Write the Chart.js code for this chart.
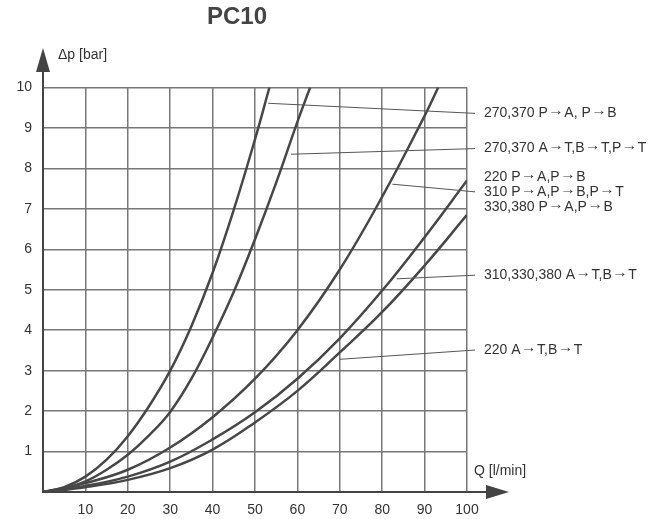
<!DOCTYPE html>
<html>
<head>
<meta charset="utf-8">
<title>PC10</title>
<script src="https://cdn.jsdelivr.net/npm/chart.js@4/dist/chart.umd.min.js"></script>
<style>
  html, body { margin: 0; padding: 0; background: #fff; }
</style>
</head>
<body>
<canvas id="chart" width="658" height="519"></canvas>
<script>
// flow Q [l/min] and pressure drop dp [bar]
const q1 = [0, 5, 10, 15, 20, 25, 30, 35, 40, 45, 50, 53.4];
const dp1 = [0, 0.12, 0.38, 0.8, 1.38, 2.12, 3.0, 4.1, 5.42, 6.98, 8.72, 10];

const q2 = [0, 5, 10, 15, 20, 25, 30, 35, 40, 45, 50, 55, 60, 63];
const dp2 = [0, 0.08, 0.26, 0.55, 0.92, 1.4, 1.98, 2.8, 3.82, 4.95, 6.25, 7.65, 9.15, 10];

const q3 = [0, 10, 20, 30, 40, 50, 60, 70, 80, 90, 93.2];
const dp3 = [0, 0.22, 0.55, 1.1, 1.85, 2.8, 4.0, 5.5, 7.3, 9.3, 10];

const q45 = [0, 10, 20, 30, 40, 50, 60, 70, 80, 90, 100];
const dp4 = [0, 0.15, 0.38, 0.75, 1.3, 1.97, 2.8, 3.8, 4.98, 6.3, 7.7];
const dp5 = [0, 0.12, 0.3, 0.59, 1.05, 1.72, 2.5, 3.45, 4.45, 5.6, 6.85];

const labelTexts = [
    ['270,370 P\u2192A, P\u2192B'],
    ['270,370 A\u2192T,B\u2192T,P\u2192T'],
    ['220 P\u2192A,P\u2192B', '310 P\u2192A,P\u2192B,P\u2192T', '330,380 P\u2192A,P\u2192B'],
    ['310,330,380 A\u2192T,B\u2192T'],
    ['220 A\u2192T,B\u2192T']
];
// leader line start (next to the curve, data units) and label level (dp units)
const leaderQ = [53.1, 58.5, 82.4, 83.4, 70.0];
const leaderDp = [9.61, 8.35, 7.61, 5.27, 3.28];
const labelDp = [9.36, 8.49, 7.42, 5.36, 3.51];

const toPoints = (xs, ys) => xs.map((v, i) => ({ x: v, y: ys[i] }));

const curveStyle = {
    borderColor: '#474747',
    borderWidth: 2.5,
    pointRadius: 0,
    fill: false,
    tension: 0.4
};

const fontFamily = '"Liberation Sans", Arial, sans-serif';
const textFont = '14px ' + fontFamily;

// text with long thin arrows, the arrow glyph is stretched to match the sheet
function drawLabel(ctx, text, x, y) {
    ctx.font = textFont;
    const parts = text.split('\u2192');
    const aw = ctx.measureText('\u2192').width;
    let cx = x;
    parts.forEach((p, i) => {
        ctx.fillText(p, cx, y);
        cx += ctx.measureText(p).width;
        if (i < parts.length - 1) {
            ctx.save();
            ctx.translate(cx + 0.5, y - 2.5);
            ctx.scale(15.5 / aw, 1.1);
            ctx.fillText('\u2192', 0, 0);
            ctx.restore();
            cx += 16.5;
        }
    });
}

const overlay = {
    id: 'overlay',
    afterDraw(chart) {
        const { ctx, chartArea: a, scales: { x, y } } = chart;
        ctx.save();

        // axis extensions and arrow heads
        ctx.strokeStyle = '#444';
        ctx.fillStyle = '#444';
        ctx.lineWidth = 2;
        ctx.beginPath();
        ctx.moveTo(a.left, a.top);
        ctx.lineTo(a.left, 70);
        ctx.moveTo(a.right, a.bottom);
        ctx.lineTo(488, a.bottom);
        ctx.stroke();

        ctx.beginPath();
        ctx.moveTo(a.left, 48);
        ctx.lineTo(a.left - 7, 72);
        ctx.lineTo(a.left + 7, 72);
        ctx.closePath();
        ctx.fill();

        ctx.beginPath();
        ctx.moveTo(509, a.bottom);
        ctx.lineTo(486, a.bottom - 7);
        ctx.lineTo(486, a.bottom + 7);
        ctx.closePath();
        ctx.fill();

        // title
        ctx.fillStyle = '#444';
        ctx.font = 'bold 24px ' + fontFamily;
        ctx.textAlign = 'center';
        ctx.textBaseline = 'middle';
        ctx.fillText('PC10', 237, 17);

        // axis titles
        ctx.fillStyle = '#333';
        ctx.font = textFont;
        ctx.textAlign = 'left';
        ctx.fillText('\u0394p [bar]', 58, 55);
        ctx.fillText('Q [l/min]', 474, 471);

        // leader lines and curve labels
        ctx.strokeStyle = '#555';
        ctx.lineWidth = 1;
        labelTexts.forEach((lines, i) => {
            const ly = y.getPixelForValue(labelDp[i]);
            ctx.beginPath();
            ctx.moveTo(x.getPixelForValue(leaderQ[i]), y.getPixelForValue(leaderDp[i]));
            ctx.lineTo(a.right + 8, ly);
            ctx.stroke();
            const start = ly - (lines.length - 1) * 15 / 2;
            lines.forEach((t, j) => drawLabel(ctx, t, a.right + 17, start + j * 15));
        });

        ctx.restore();
    }
};

new Chart(document.getElementById('chart'), {
    type: 'line',
    data: {
        datasets: [
            { data: toPoints(q1, dp1), ...curveStyle },
            { data: toPoints(q2, dp2), ...curveStyle },
            { data: toPoints(q3, dp3), ...curveStyle },
            { data: toPoints(q45, dp4), ...curveStyle },
            { data: toPoints(q45, dp5), ...curveStyle }
        ]
    },
    options: {
        responsive: false,
        animation: false,
        layout: { padding: { left: 0, top: 87.5, right: 191, bottom: 0 } },
        plugins: { legend: { display: false }, tooltip: { enabled: false } },
        scales: {
            x: {
                type: 'linear',
                min: 0,
                max: 100,
                ticks: {
                    stepSize: 10,
                    padding: 10,
                    color: '#333',
                    font: { family: fontFamily, size: 14 },
                    callback: v => v === 0 ? '' : v
                },
                grid: { color: '#777', lineWidth: 1.5, drawTicks: false },
                border: { color: '#444', width: 2 },
                afterFit: s => { s.height = 27; }
            },
            y: {
                min: 0,
                max: 10,
                ticks: {
                    stepSize: 1,
                    padding: 11,
                    color: '#333',
                    font: { family: fontFamily, size: 14 },
                    callback: v => v === 0 ? '' : v
                },
                grid: { color: '#777', lineWidth: 1.5, drawTicks: false },
                border: { color: '#444', width: 2 },
                afterFit: s => { s.width = 43; }
            }
        }
    },
    plugins: [overlay]
});
</script>
</body>
</html>
